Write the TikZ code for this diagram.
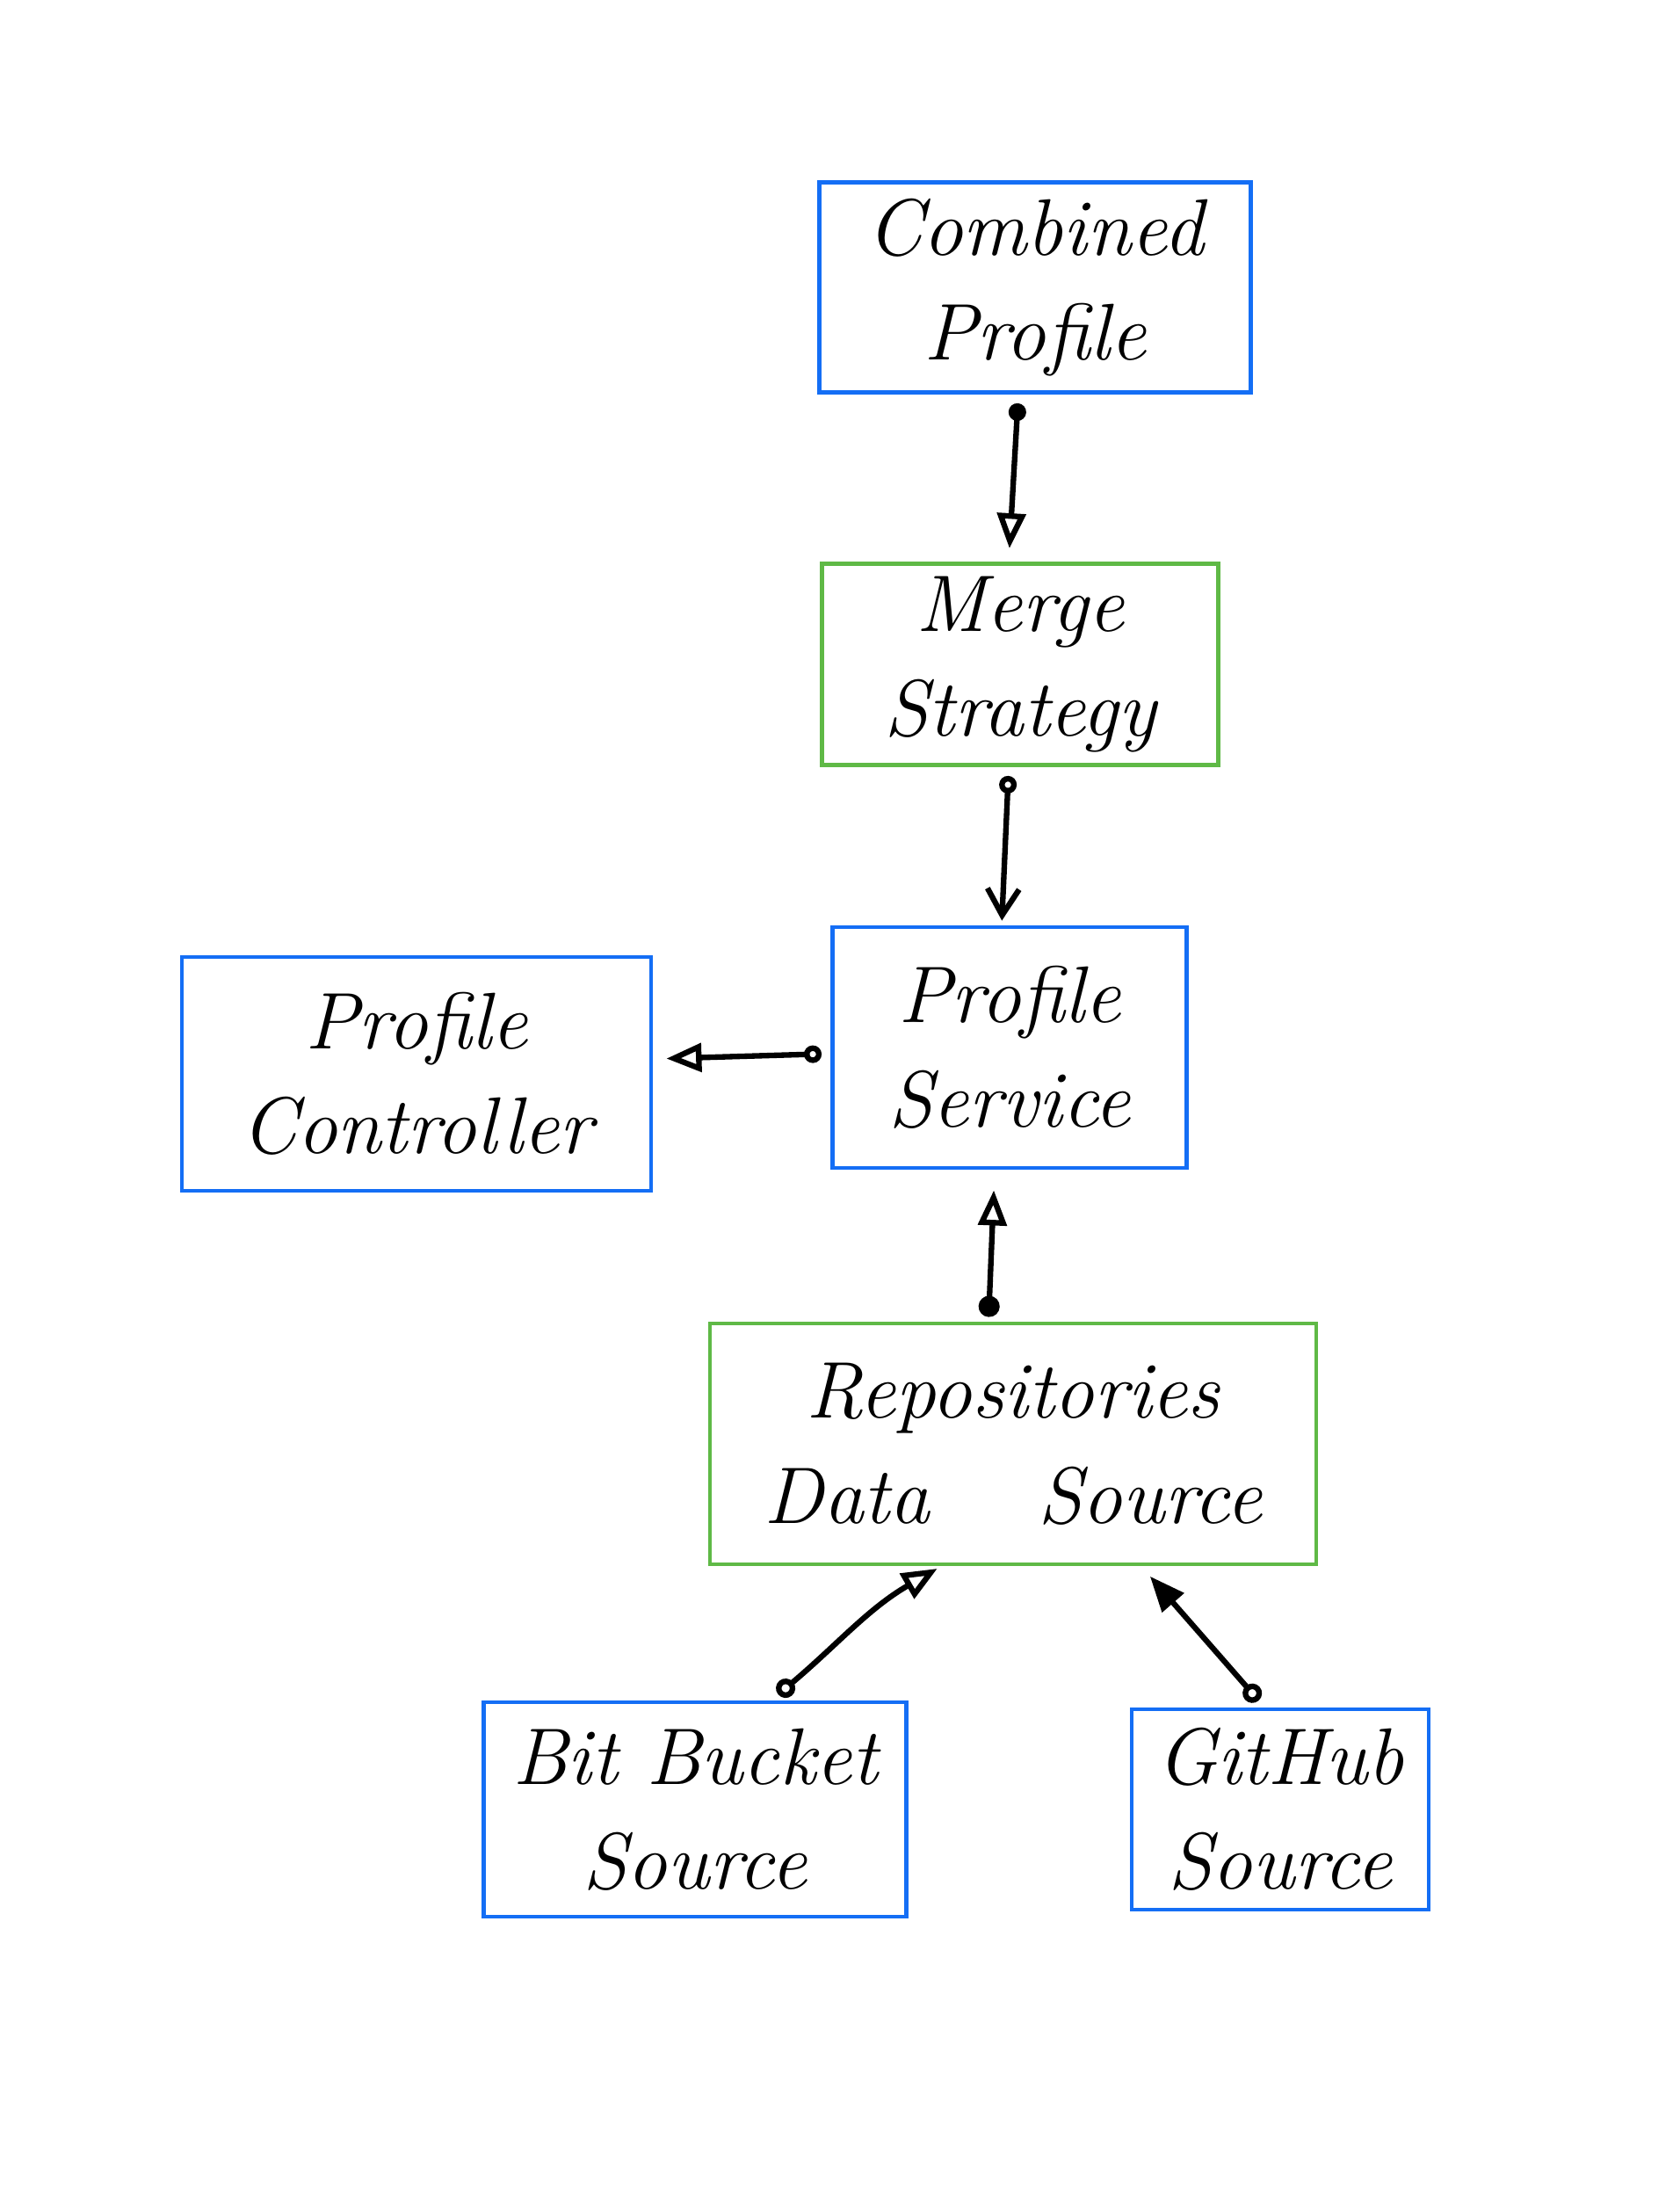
\documentclass[tikz,border=0pt]{standalone}
\usetikzlibrary{arrows.meta}
\definecolor{penblue}{RGB}{20,110,245}
\definecolor{pengreen}{RGB}{95,185,70}
\begin{document}
\begin{tikzpicture}[x=1cm,y=-1cm,
  box/.style={draw, line width=1.4pt, align=center, inner sep=0pt,
    font=\itshape\fontsize{26}{34}\selectfont},
  bluebox/.style={box, penblue},
  greenbox/.style={box, pengreen},
  link/.style={line width=1.8pt, black, line cap=round, shorten <=1mm, shorten >=1.5mm}]
\useasboundingbox (0,0) rectangle (19.11,25);
\node[bluebox, minimum width=4.91cm, minimum height=2.39cm, text=black] (cp) at (11.78,3.27){Combined\\Profile};
\node[greenbox, minimum width=4.51cm, minimum height=2.29cm, text=black] (ms) at (11.61,7.56){Merge\\Strategy};
\node[bluebox, minimum width=4.03cm, minimum height=2.74cm, text=black] (ps) at (11.49,11.92){Profile\\Service};
\node[bluebox, minimum width=5.34cm, minimum height=2.66cm, text=black] (pc) at (4.74,12.22){Profile\\Controller};
\node[greenbox, minimum width=6.90cm, minimum height=2.74cm, text=black] (rds) at (11.53,16.43){Repositories\\Data\quad\ Source};
\node[bluebox, minimum width=4.81cm, minimum height=2.44cm, text=black] (bb) at (7.91,20.59){Bit Bucket\\Source};
\node[bluebox, minimum width=3.38cm, minimum height=2.28cm, text=black] (gh) at (14.57,20.59){GitHub\\Source};

\draw[link, {Circle[length=2mm]}-{Triangle[open, length=4mm, width=3.2mm]}] ([xshift=-1.9mm]cp.south) -- ([xshift=-1.3mm]ms.north);
\draw[link, {Circle[open, length=2mm]}-{Straight Barb[length=3mm, width=3.6mm]}, shorten >=0.5mm] ([xshift=-1.3mm]ms.south) -- ([xshift=-0.9mm]ps.north);
\draw[link, {Circle[open, length=2mm]}-{Triangle[open, length=4mm, width=3.2mm]}] ([yshift=-0.7mm]ps.west) -- ([yshift=1.7mm]pc.east);
\draw[link, {Circle[length=2.4mm]}-{Triangle[open, length=4mm, width=3.2mm]}, shorten <=0.5mm, shorten >=2.3mm] ([xshift=-2.8mm]rds.north) -- ([xshift=-1.7mm]ps.south);
\draw[link, {Circle[open, length=2.2mm]}-{Triangle[open, length=4mm, width=3.2mm]}, shorten >=0.5mm] ([xshift=8.7mm]bb.north) to[out=40, in=-150] ([xshift=-8.2mm]rds.south);
\draw[link, {Circle[open, length=2.2mm]}-{Triangle[length=4mm, width=3.2mm]}] ([xshift=-1.8mm]gh.north) -- ([xshift=14.6mm]rds.south);

\end{tikzpicture}
\end{document}
